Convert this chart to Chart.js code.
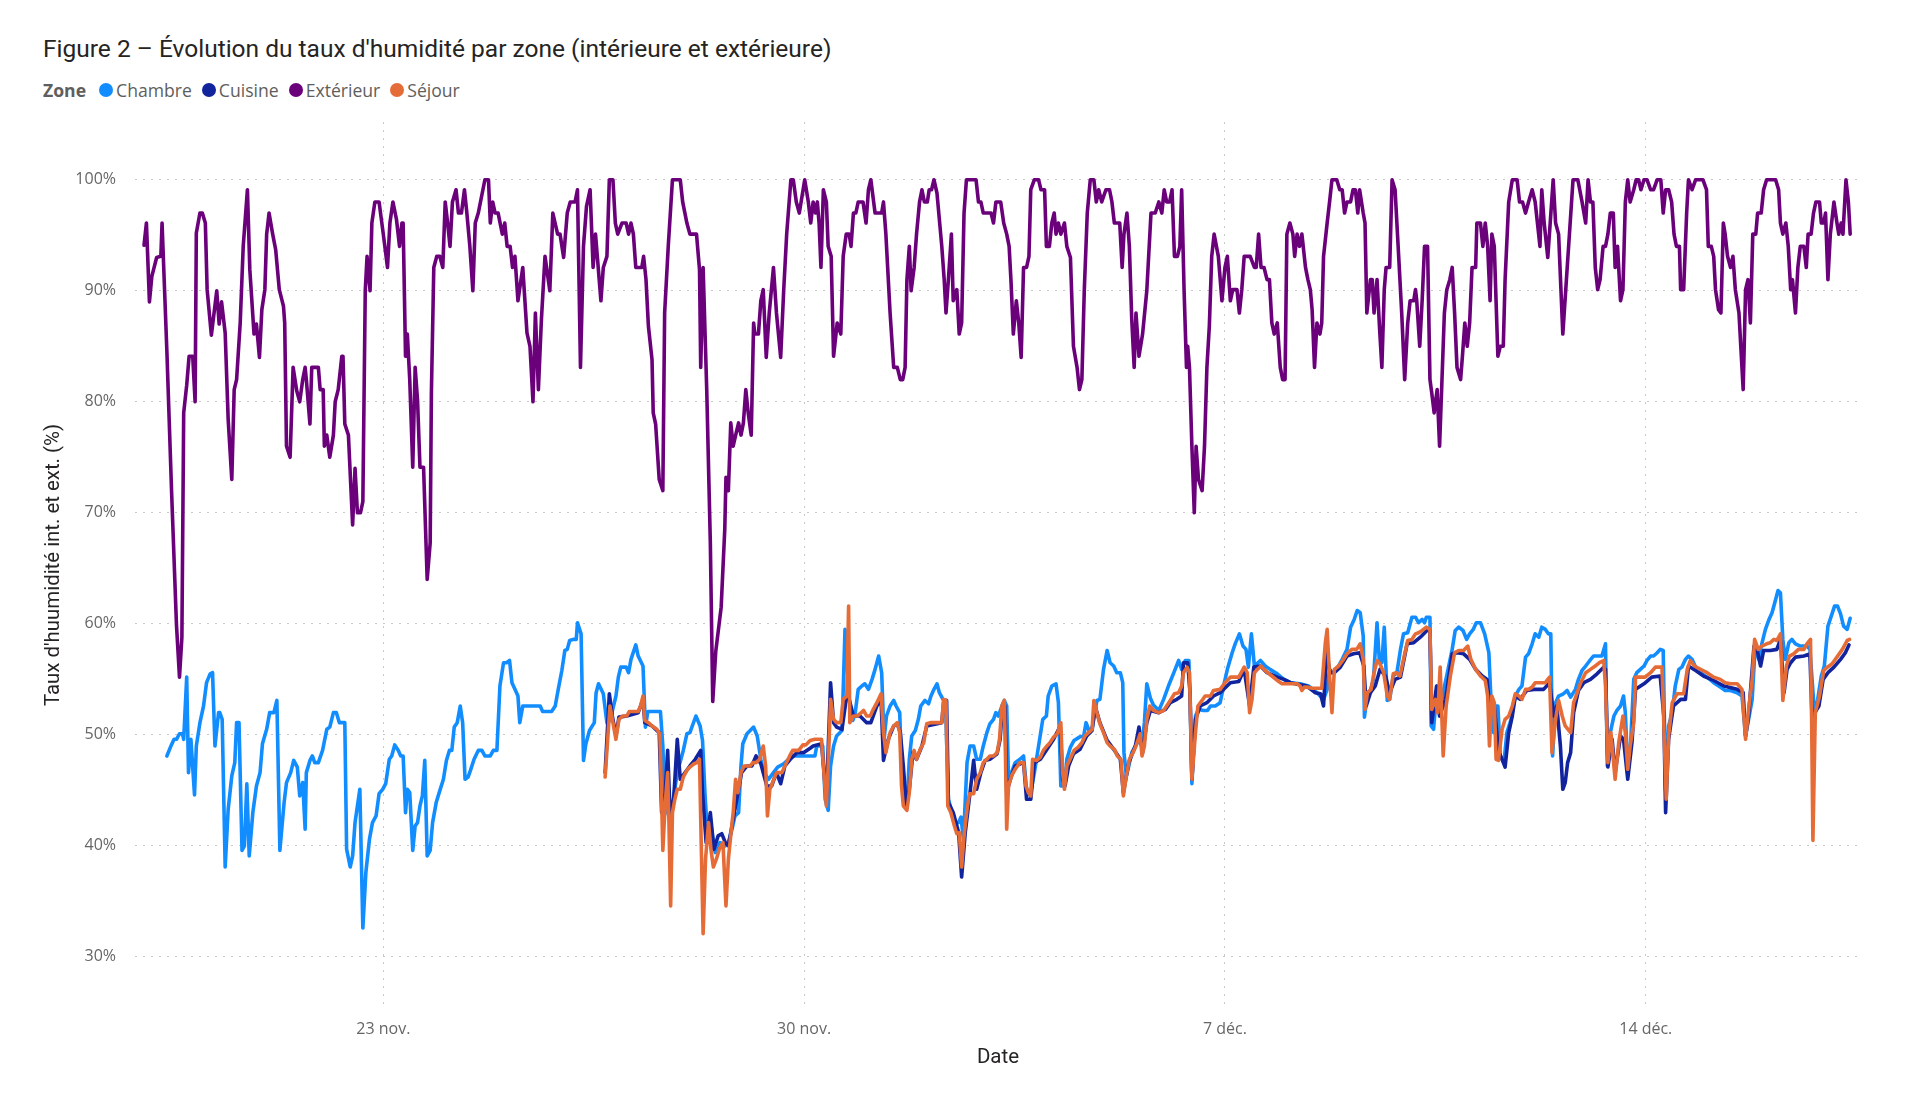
<!DOCTYPE html>
<html lang="fr">
<head>
<meta charset="utf-8">
<title>Figure 2</title>
<script src="https://cdn.jsdelivr.net/npm/chart.js@4.4.1/dist/chart.umd.min.js"></script>
<style>
  html, body { margin: 0; padding: 0; background: #ffffff; }
  body { width: 1920px; height: 1110px; position: relative; overflow: hidden; font-family: "Open Sans", sans-serif; }
  #title { position: absolute; left: 43px; top: 34px; font-family: Roboto, sans-serif; font-size: 24.5px; color: #252423; white-space: nowrap; }
  #legend { position: absolute; left: 43px; top: 78px; height: 24px; display: flex; align-items: center; font-size: 17.6px; color: #605E5C; white-space: nowrap; }
  #legend .zone { font-weight: 700; margin-right: 13px; }
  #legend .dot { width: 14px; height: 14px; border-radius: 50%; margin-right: 3px; display: inline-block; }
  #legend .lab { margin-right: 10px; }
  #wrap { position: absolute; left: 0; top: 0; width: 1920px; height: 1110px; }
</style>
</head>
<body>
<div id="title">Figure 2 – Évolution du taux d'humidité par zone (intérieure et extérieure)</div>
<div id="legend"></div>
<div id="wrap"><canvas id="c" width="1920" height="1110"></canvas></div>
<script>
// Day numbers count from 1 November (23 = 23 nov., 37 = 7 déc.)
const tickDays = [23, 30, 37, 44];
const tickLabels = ['23 nov.', '30 nov.', '7 déc.', '14 déc.'];
const yTicks = [30, 40, 50, 60, 70, 80, 90, 100];
const zones = ['Chambre', 'Cuisine', 'Extérieur', 'Séjour'];
const colors = ['#118DFF', '#12239E', '#6B007B', '#E66C37'];

// [day, humidity %]
const exterieur = [[19.02,94.1],[19.06,96.1],[19.11,89.0],[19.15,91.3],[19.23,93.0],[19.30,93.1],[19.32,96.1],[19.40,84.6],[19.48,71.7],[19.56,59.9],[19.61,55.2],[19.65,58.8],[19.68,79.0],[19.73,81.5],[19.77,84.1],[19.83,84.1],[19.87,80.0],[19.89,95.2],[19.95,97.0],[19.99,97.0],[20.04,96.1],[20.07,90.1],[20.14,86.0],[20.23,90.0],[20.27,87.0],[20.31,89.0],[20.37,86.2],[20.42,78.4],[20.48,73.0],[20.52,81.1],[20.56,82.0],[20.62,87.1],[20.67,94.0],[20.74,99.1],[20.78,91.9],[20.85,86.1],[20.89,87.0],[20.94,84.0],[20.98,88.3],[21.03,90.1],[21.06,95.1],[21.10,97.0],[21.16,95.1],[21.21,93.7],[21.27,90.1],[21.34,88.6],[21.36,87.1],[21.39,76.0],[21.45,75.0],[21.50,83.1],[21.56,81.0],[21.61,80.0],[21.66,82.0],[21.70,83.1],[21.72,82.0],[21.78,78.0],[21.81,83.1],[21.92,83.1],[21.95,81.1],[22.00,81.1],[22.02,76.0],[22.06,77.0],[22.11,75.0],[22.17,77.0],[22.20,80.0],[22.25,81.1],[22.31,84.1],[22.33,84.1],[22.36,78.0],[22.42,77.0],[22.49,68.9],[22.53,74.0],[22.57,70.0],[22.62,70.0],[22.66,71.0],[22.70,90.0],[22.73,93.1],[22.78,90.0],[22.81,96.1],[22.86,98.0],[22.93,98.0],[23.00,95.1],[23.07,92.1],[23.11,96.1],[23.16,98.0],[23.22,96.4],[23.27,94.0],[23.31,96.1],[23.33,96.1],[23.37,84.1],[23.40,86.1],[23.44,82.0],[23.49,74.1],[23.53,83.1],[23.57,80.1],[23.61,74.1],[23.67,74.1],[23.73,64.0],[23.78,67.3],[23.80,80.8],[23.84,92.1],[23.89,93.1],[23.94,93.1],[23.99,92.1],[24.03,98.0],[24.07,96.1],[24.11,94.0],[24.15,98.0],[24.21,99.1],[24.25,97.0],[24.30,97.0],[24.35,99.1],[24.39,97.0],[24.44,94.0],[24.49,90.0],[24.53,96.1],[24.58,97.0],[24.69,100],[24.75,100],[24.78,96.1],[24.82,98.0],[24.86,97.0],[24.91,97.0],[24.98,95.1],[25.02,96.1],[25.06,94.0],[25.11,94.0],[25.15,92.1],[25.19,93.1],[25.24,89.1],[25.32,92.1],[25.39,86.2],[25.44,85.0],[25.49,80.0],[25.53,88.0],[25.58,81.1],[25.63,87.4],[25.69,93.1],[25.77,90.0],[25.82,97.0],[25.90,95.1],[25.94,95.1],[26.00,93.0],[26.06,97.0],[26.11,98.0],[26.19,98.0],[26.23,99.1],[26.28,83.1],[26.33,94.0],[26.38,97.6],[26.44,99.1],[26.49,92.1],[26.53,95.1],[26.62,89.1],[26.66,92.1],[26.72,93.1],[26.76,100],[26.82,100],[26.86,96.1],[26.90,95.1],[26.97,96.1],[27.04,96.1],[27.08,95.1],[27.12,96.1],[27.16,95.1],[27.20,92.1],[27.30,92.1],[27.33,93.1],[27.37,91.0],[27.41,86.8],[27.47,83.8],[27.49,79.0],[27.53,78.0],[27.59,73.0],[27.65,72.0],[27.68,88.0],[27.74,94.0],[27.81,100],[27.94,100],[27.98,98.0],[28.05,96.1],[28.10,95.1],[28.21,95.1],[28.26,91.9],[28.28,83.1],[28.32,92.1],[28.38,81.1],[28.44,67.3],[28.48,53.0],[28.53,57.5],[28.62,61.5],[28.68,68.5],[28.70,73.2],[28.74,72.0],[28.78,78.1],[28.82,76.0],[28.87,77.2],[28.91,78.1],[28.95,77.0],[28.99,78.1],[29.03,81.1],[29.07,79.0],[29.12,77.0],[29.16,87.1],[29.18,86.1],[29.24,86.1],[29.28,89.1],[29.32,90.1],[29.37,84.0],[29.42,88.0],[29.49,92.1],[29.54,88.0],[29.61,84.0],[29.66,90.0],[29.71,95.1],[29.78,100],[29.82,100],[29.87,98.0],[29.92,97.0],[30.01,100],[30.07,98.0],[30.11,96.1],[30.15,98.0],[30.19,97.0],[30.22,98.0],[30.25,96.0],[30.28,92.1],[30.32,99.1],[30.37,98.0],[30.40,94.0],[30.45,93.1],[30.49,84.1],[30.55,87.1],[30.61,86.1],[30.65,93.1],[30.70,95.1],[30.75,95.1],[30.78,94.0],[30.82,97.0],[30.86,97.0],[30.90,98.0],[30.98,98.0],[31.03,96.1],[31.07,99.1],[31.11,100],[31.18,97.0],[31.29,97.0],[31.32,98.0],[31.36,95.1],[31.43,88.0],[31.49,83.1],[31.55,83.1],[31.60,82.0],[31.64,82.0],[31.68,83.1],[31.71,91.0],[31.75,94.0],[31.78,90.0],[31.83,92.1],[31.87,95.1],[31.92,98.0],[31.96,99.1],[32.00,98.0],[32.05,98.0],[32.08,99.1],[32.12,99.1],[32.16,100],[32.21,98.8],[32.29,94.0],[32.33,91.0],[32.36,88.0],[32.40,91.0],[32.45,95.1],[32.48,89.1],[32.54,90.1],[32.58,86.1],[32.62,87.1],[32.66,97.0],[32.70,100],[32.86,100],[32.90,98.0],[32.94,98.0],[32.98,97.0],[33.11,97.0],[33.15,96.1],[33.19,98.0],[33.27,98.0],[33.32,96.1],[33.37,95.1],[33.41,94.0],[33.44,91.0],[33.48,86.1],[33.53,89.1],[33.57,87.1],[33.61,84.0],[33.65,92.1],[33.70,92.1],[33.74,93.1],[33.77,99.1],[33.83,100],[33.90,100],[33.94,99.1],[34.00,99.1],[34.03,94.0],[34.08,94.0],[34.12,96.1],[34.16,97.0],[34.19,95.1],[34.23,96.1],[34.27,95.1],[34.33,96.1],[34.37,94.0],[34.43,93.0],[34.48,85.0],[34.54,83.1],[34.58,81.1],[34.62,82.0],[34.66,90.0],[34.71,97.0],[34.76,100],[34.82,100],[34.86,98.0],[34.90,99.1],[34.95,98.0],[35.02,99.1],[35.08,99.1],[35.12,98.0],[35.16,96.1],[35.25,96.1],[35.29,92.1],[35.32,95.1],[35.37,97.0],[35.41,94.0],[35.45,87.4],[35.49,83.1],[35.52,88.0],[35.57,84.1],[35.63,86.1],[35.70,90.0],[35.77,97.0],[35.84,97.0],[35.90,98.0],[35.95,97.0],[35.99,99.1],[36.03,98.0],[36.08,98.0],[36.12,99.1],[36.16,93.1],[36.21,93.1],[36.25,94.0],[36.28,99.1],[36.32,90.1],[36.36,83.1],[36.38,85.0],[36.41,83.1],[36.45,76.0],[36.49,70.0],[36.52,76.0],[36.56,73.0],[36.62,72.0],[36.66,76.0],[36.70,83.1],[36.74,86.8],[36.78,93.1],[36.82,95.1],[36.89,93.1],[36.95,89.1],[37.00,92.1],[37.04,93.1],[37.09,89.1],[37.13,90.1],[37.20,90.1],[37.24,88.0],[37.28,90.1],[37.32,93.1],[37.42,93.1],[37.49,92.1],[37.52,92.1],[37.56,95.1],[37.60,92.1],[37.65,92.1],[37.70,91.0],[37.74,91.0],[37.78,87.1],[37.82,86.1],[37.87,87.1],[37.92,83.1],[37.96,82.0],[38.00,82.0],[38.03,95.1],[38.08,96.1],[38.13,95.1],[38.16,93.1],[38.20,95.1],[38.24,94.0],[38.28,95.1],[38.34,92.1],[38.38,91.0],[38.42,90.1],[38.45,88.3],[38.49,83.1],[38.53,87.1],[38.58,86.1],[38.61,87.1],[38.64,93.1],[38.70,96.1],[38.74,98.0],[38.78,100],[38.86,100],[38.91,99.1],[38.95,99.1],[38.99,97.0],[39.03,98.0],[39.09,98.0],[39.13,99.1],[39.17,99.1],[39.21,97.0],[39.24,99.1],[39.30,97.0],[39.33,96.1],[39.36,88.0],[39.42,91.0],[39.45,91.0],[39.48,88.0],[39.53,91.0],[39.57,86.8],[39.61,83.1],[39.65,90.1],[39.68,92.1],[39.74,92.1],[39.78,100],[39.83,99.1],[39.89,93.1],[39.94,88.0],[39.99,82.0],[40.04,87.1],[40.08,89.1],[40.14,89.1],[40.17,90.1],[40.19,89.1],[40.24,85.0],[40.28,89.1],[40.32,94.0],[40.37,94.0],[40.41,82.0],[40.44,80.8],[40.48,79.0],[40.53,81.1],[40.57,76.0],[40.61,82.0],[40.65,88.0],[40.69,90.1],[40.74,91.0],[40.78,92.1],[40.82,88.0],[40.86,83.1],[40.92,82.0],[40.95,84.1],[40.99,87.1],[41.03,85.0],[41.07,87.1],[41.11,92.1],[41.17,92.1],[41.19,96.1],[41.25,96.1],[41.29,94.0],[41.33,96.1],[41.37,94.0],[41.41,89.1],[41.44,95.1],[41.48,94.0],[41.54,84.1],[41.58,85.0],[41.63,85.0],[41.66,91.0],[41.72,98.0],[41.78,100],[41.86,100],[41.90,98.0],[41.95,98.0],[42.00,97.0],[42.05,98.0],[42.11,99.1],[42.16,98.0],[42.24,94.0],[42.27,99.1],[42.31,96.1],[42.37,93.0],[42.41,96.1],[42.46,100],[42.50,96.1],[42.55,95.1],[42.62,86.1],[42.68,91.0],[42.73,95.1],[42.79,100],[42.87,100],[42.94,98.0],[43.00,96.1],[43.04,100],[43.08,98.0],[43.12,98.0],[43.16,92.1],[43.20,90.1],[43.24,91.0],[43.29,94.0],[43.33,94.0],[43.37,95.1],[43.41,97.0],[43.46,97.0],[43.49,92.1],[43.53,94.0],[43.58,89.1],[43.62,90.1],[43.66,98.0],[43.70,100],[43.74,98.0],[43.80,99.1],[43.84,100],[43.88,100],[43.92,99.1],[43.97,100],[44.02,100],[44.08,99.1],[44.13,99.1],[44.19,100],[44.25,100],[44.29,97.0],[44.33,99.1],[44.38,99.1],[44.43,98.0],[44.47,95.1],[44.51,94.0],[44.56,94.0],[44.58,90.1],[44.63,90.1],[44.68,97.0],[44.71,100],[44.77,99.1],[44.83,100],[44.95,100],[45.01,99.1],[45.04,94.0],[45.09,94.0],[45.13,93.1],[45.16,90.1],[45.21,88.3],[45.25,88.0],[45.29,96.1],[45.32,95.1],[45.36,93.1],[45.41,92.1],[45.45,93.1],[45.49,90.1],[45.55,88.0],[45.62,81.1],[45.66,90.1],[45.70,91.0],[45.74,87.1],[45.78,95.1],[45.83,95.1],[45.86,97.0],[45.92,97.0],[45.96,99.1],[46.01,100],[46.16,100],[46.21,99.1],[46.24,96.1],[46.28,95.1],[46.33,96.1],[46.37,94.0],[46.41,90.1],[46.44,91.0],[46.49,88.0],[46.53,92.1],[46.57,94.0],[46.63,94.0],[46.67,92.1],[46.70,95.1],[46.75,95.1],[46.79,97.0],[46.83,98.0],[46.89,98.0],[46.92,96.1],[46.96,96.1],[46.99,97.0],[47.03,91.0],[47.07,95.1],[47.13,98.0],[47.18,96.1],[47.21,95.1],[47.25,96.1],[47.28,95.1],[47.33,100],[47.37,98.0],[47.40,95.1]];

const chambre = [[19.40,48.1],[19.46,48.9],[19.52,49.6],[19.56,49.6],[19.61,50.1],[19.66,50.1],[19.68,49.6],[19.73,55.2],[19.76,46.6],[19.80,49.6],[19.86,44.6],[19.89,49.0],[19.95,51.1],[20.01,52.6],[20.06,54.7],[20.12,55.5],[20.16,55.6],[20.20,49.0],[20.26,52.0],[20.28,52.0],[20.32,51.4],[20.37,38.1],[20.42,43.3],[20.48,46.3],[20.53,47.5],[20.56,51.1],[20.60,51.1],[20.65,39.6],[20.69,40.0],[20.73,45.6],[20.77,39.1],[20.83,43.0],[20.89,45.4],[20.95,46.6],[20.99,49.2],[21.06,50.5],[21.11,52.0],[21.18,52.0],[21.23,53.1],[21.28,39.6],[21.35,43.9],[21.39,45.7],[21.46,46.6],[21.51,47.7],[21.57,47.1],[21.61,44.5],[21.66,45.7],[21.70,41.5],[21.72,46.6],[21.78,47.7],[21.82,48.1],[21.86,47.5],[21.92,47.5],[21.99,48.6],[22.06,50.5],[22.11,50.7],[22.17,52.0],[22.22,52.0],[22.27,51.1],[22.36,51.1],[22.39,39.7],[22.45,38.1],[22.49,39.1],[22.53,42.1],[22.61,45.1],[22.66,32.6],[22.71,37.6],[22.77,40.6],[22.82,42.1],[22.88,42.7],[22.93,44.7],[22.99,45.1],[23.04,45.6],[23.10,47.8],[23.14,48.1],[23.19,49.1],[23.25,48.6],[23.29,48.1],[23.33,48.1],[23.37,43.0],[23.40,45.1],[23.44,44.8],[23.49,39.6],[23.53,41.8],[23.57,42.1],[23.61,43.6],[23.65,44.5],[23.69,47.7],[23.73,39.1],[23.78,39.6],[23.82,42.1],[23.88,43.9],[23.93,44.8],[24.00,46.0],[24.05,47.7],[24.10,48.6],[24.14,48.6],[24.18,50.7],[24.23,51.1],[24.28,52.6],[24.32,51.1],[24.36,46.0],[24.41,46.2],[24.45,46.8],[24.51,47.8],[24.58,48.6],[24.64,48.6],[24.69,48.1],[24.78,48.1],[24.83,48.6],[24.89,48.6],[24.94,54.4],[25.00,56.5],[25.05,56.5],[25.10,56.7],[25.14,54.7],[25.19,54.1],[25.24,53.5],[25.27,51.1],[25.32,52.6],[25.36,52.6],[25.61,52.6],[25.65,52.1],[25.80,52.1],[25.86,52.6],[25.91,54.1],[25.97,55.8],[26.02,57.6],[26.06,57.7],[26.10,58.5],[26.16,58.6],[26.21,58.6],[26.23,60.1],[26.29,59.1],[26.33,47.7],[26.37,49.2],[26.43,50.4],[26.51,51.1],[26.54,53.8],[26.58,54.6],[26.66,53.7],[26.72,51.1],[26.77,51.3],[26.83,52.6],[26.87,53.5],[26.91,55.2],[26.95,56.1],[27.04,56.1],[27.08,55.6],[27.12,56.8],[27.20,58.1],[27.24,57.1],[27.32,56.2],[27.36,50.7],[27.40,52.1],[27.61,52.1],[27.65,49.0],[27.68,44.2],[27.73,43.0],[27.77,42.4],[27.84,44.8],[27.89,46.6],[27.99,48.6],[28.05,50.1],[28.10,50.2],[28.20,51.7],[28.27,50.8],[28.31,49.5],[28.35,44.8],[28.39,41.2],[28.45,41.8],[28.52,39.4],[28.60,40.3],[28.69,40.0],[28.74,40.3],[28.80,41.5],[28.85,42.7],[28.91,43.0],[28.95,47.2],[28.98,49.2],[29.05,50.1],[29.16,50.7],[29.22,49.9],[29.28,47.8],[29.33,46.6],[29.41,46.0],[29.49,46.6],[29.56,47.1],[29.66,47.4],[29.74,47.8],[29.82,48.1],[29.93,48.1],[30.04,48.1],[30.18,48.1],[30.21,49.0],[30.31,49.0],[30.35,44.2],[30.40,43.2],[30.44,47.2],[30.49,49.0],[30.54,49.9],[30.63,50.4],[30.68,59.5],[30.72,55.9],[30.75,53.2],[30.81,51.3],[30.85,52.0],[30.90,54.1],[30.96,54.4],[31.01,54.6],[31.07,54.1],[31.13,55.0],[31.18,55.9],[31.24,57.1],[31.29,55.6],[31.33,49.6],[31.37,51.7],[31.43,52.6],[31.49,53.1],[31.53,52.6],[31.59,52.0],[31.62,47.1],[31.71,43.6],[31.75,47.8],[31.79,49.9],[31.85,50.4],[31.90,51.4],[31.94,52.6],[32.01,53.1],[32.07,52.8],[32.11,53.5],[32.16,54.1],[32.21,54.6],[32.25,53.8],[32.31,53.2],[32.35,53.1],[32.40,44.2],[32.46,43.0],[32.51,42.1],[32.57,42.1],[32.61,42.6],[32.65,40.6],[32.71,47.5],[32.76,49.0],[32.82,49.0],[32.87,47.8],[32.93,47.8],[32.98,49.0],[33.04,50.2],[33.09,51.0],[33.15,51.4],[33.19,52.0],[33.23,51.7],[33.29,52.6],[33.33,53.1],[33.37,52.6],[33.40,46.0],[33.45,46.6],[33.51,47.5],[33.59,47.8],[33.65,48.1],[33.70,45.1],[33.76,44.5],[33.83,46.6],[33.90,49.0],[33.97,51.4],[34.03,51.7],[34.06,53.5],[34.12,54.4],[34.19,54.6],[34.23,52.9],[34.27,45.4],[34.33,45.4],[34.37,47.8],[34.43,48.9],[34.49,49.5],[34.58,49.8],[34.65,49.9],[34.69,51.1],[34.75,50.2],[34.80,50.8],[34.87,53.1],[34.92,53.2],[34.98,55.9],[35.04,57.6],[35.09,56.5],[35.15,56.2],[35.20,55.6],[35.26,55.6],[35.30,54.7],[35.32,48.4],[35.36,46.3],[35.40,47.2],[35.45,48.4],[35.51,49.0],[35.56,49.5],[35.62,49.0],[35.66,51.1],[35.70,54.6],[35.76,53.3],[35.81,52.7],[35.90,52.2],[35.98,53.2],[36.06,54.4],[36.15,55.6],[36.23,56.7],[36.28,55.9],[36.34,56.7],[36.40,56.7],[36.42,53.2],[36.45,45.6],[36.51,51.7],[36.56,52.3],[36.64,52.2],[36.71,52.2],[36.76,52.6],[36.84,52.6],[36.92,52.9],[36.99,54.7],[37.04,55.9],[37.12,57.4],[37.17,58.2],[37.24,59.1],[37.30,58.0],[37.35,57.7],[37.39,56.1],[37.44,59.1],[37.49,56.2],[37.53,56.4],[37.59,56.7],[37.67,56.2],[37.75,55.9],[37.87,55.5],[37.98,55.0],[38.09,54.7],[38.25,54.6],[38.39,54.4],[38.53,53.8],[38.64,53.2],[38.70,54.1],[38.74,55.9],[38.78,55.6],[38.86,55.9],[38.95,56.8],[39.03,57.7],[39.09,59.7],[39.15,60.4],[39.20,61.2],[39.25,61.0],[39.30,58.9],[39.32,51.6],[39.36,53.2],[39.42,54.0],[39.47,55.0],[39.53,60.1],[39.57,56.5],[39.61,56.5],[39.65,59.7],[39.70,53.1],[39.74,53.2],[39.80,55.3],[39.86,55.6],[39.92,57.7],[39.97,59.1],[40.04,59.2],[40.11,60.6],[40.17,60.6],[40.22,60.1],[40.28,60.4],[40.32,60.1],[40.35,60.6],[40.41,60.6],[40.43,50.8],[40.47,50.5],[40.53,54.4],[40.58,51.7],[40.64,54.1],[40.70,55.6],[40.78,57.7],[40.83,59.4],[40.89,59.7],[40.96,59.4],[41.02,58.6],[41.07,59.1],[41.13,59.5],[41.18,60.1],[41.25,60.1],[41.32,59.1],[41.39,57.4],[41.43,52.6],[41.47,50.2],[41.51,52.6],[41.54,52.6],[41.58,48.1],[41.64,47.5],[41.69,50.2],[41.76,51.4],[41.83,53.5],[41.89,54.1],[41.94,54.4],[42.00,57.0],[42.05,57.3],[42.11,58.2],[42.16,59.1],[42.22,58.8],[42.27,59.7],[42.33,59.5],[42.38,59.1],[42.42,59.1],[42.45,48.1],[42.50,52.9],[42.55,53.5],[42.63,53.7],[42.69,54.0],[42.75,53.4],[42.83,54.1],[42.88,55.0],[42.94,55.8],[43.00,56.2],[43.07,56.7],[43.13,57.1],[43.27,57.1],[43.33,58.2],[43.36,47.2],[43.41,50.2],[43.47,51.7],[43.52,52.2],[43.58,52.6],[43.63,53.5],[43.66,52.0],[43.70,46.9],[43.74,48.4],[43.80,55.0],[43.85,55.6],[43.91,55.9],[43.97,56.2],[44.02,56.7],[44.08,57.1],[44.13,57.1],[44.19,57.4],[44.24,57.7],[44.29,57.6],[44.33,45.0],[44.38,50.8],[44.44,52.0],[44.49,54.4],[44.55,55.9],[44.60,56.1],[44.66,56.8],[44.71,57.1],[44.77,56.8],[44.83,56.1],[44.91,55.6],[45.02,55.2],[45.13,54.7],[45.24,54.3],[45.32,54.0],[45.41,54.0],[45.52,53.8],[45.60,53.5],[45.66,49.9],[45.71,51.4],[45.77,53.2],[45.82,58.0],[45.88,56.8],[45.93,58.2],[45.99,59.5],[46.05,60.4],[46.10,61.0],[46.16,62.2],[46.20,63.0],[46.24,62.8],[46.28,58.6],[46.32,56.8],[46.38,58.3],[46.43,58.6],[46.49,58.2],[46.57,58.0],[46.68,58.0],[46.73,57.7],[46.77,54.7],[46.81,51.7],[46.86,53.2],[46.92,55.3],[46.97,56.2],[47.03,59.8],[47.08,60.6],[47.14,61.6],[47.19,61.6],[47.24,60.9],[47.29,59.8],[47.35,59.5],[47.40,60.5]];

const cuisine = [[26.69,46.6],[26.76,53.7],[26.81,51.7],[26.87,49.9],[26.92,51.6],[27.05,51.7],[27.24,52.0],[27.32,53.2],[27.35,51.1],[27.47,50.8],[27.59,50.2],[27.63,43.0],[27.69,44.8],[27.73,48.6],[27.77,43.0],[27.83,44.2],[27.89,49.6],[27.94,46.0],[28.02,46.6],[28.10,47.2],[28.19,47.8],[28.28,48.6],[28.31,44.8],[28.37,40.3],[28.44,43.0],[28.50,39.7],[28.57,40.9],[28.63,41.1],[28.69,40.3],[28.74,40.0],[28.82,42.4],[28.88,44.2],[28.96,46.6],[29.05,47.2],[29.13,47.2],[29.20,48.1],[29.28,47.4],[29.38,45.4],[29.46,45.4],[29.54,46.6],[29.61,45.6],[29.68,47.2],[29.77,47.8],[29.88,48.4],[29.99,48.4],[30.10,48.8],[30.15,49.0],[30.29,49.2],[30.37,44.2],[30.44,54.7],[30.49,51.1],[30.54,50.7],[30.63,50.5],[30.70,53.2],[30.75,53.2],[30.82,51.7],[30.93,51.7],[31.04,51.1],[31.11,51.1],[31.21,52.6],[31.28,53.2],[31.32,47.7],[31.40,49.6],[31.49,50.8],[31.55,51.0],[31.60,50.2],[31.65,47.2],[31.70,43.6],[31.75,45.1],[31.81,48.4],[31.87,47.8],[31.96,49.0],[32.04,50.8],[32.29,51.1],[32.32,52.9],[32.37,53.1],[32.40,43.9],[32.48,43.0],[32.57,41.2],[32.62,37.2],[32.68,41.2],[32.76,44.8],[32.82,47.7],[32.87,45.1],[32.94,46.6],[33.01,47.7],[33.09,47.8],[33.21,48.3],[33.26,49.6],[33.30,52.6],[33.34,52.6],[33.37,44.8],[33.43,46.0],[33.51,47.2],[33.65,47.5],[33.70,44.2],[33.77,44.2],[33.83,47.5],[33.93,47.8],[34.04,48.7],[34.15,49.6],[34.26,50.8],[34.30,46.0],[34.34,45.4],[34.40,47.2],[34.48,48.3],[34.59,48.7],[34.70,49.9],[34.79,50.4],[34.84,52.6],[34.92,51.1],[35.04,49.5],[35.15,48.7],[35.26,47.8],[35.31,44.8],[35.40,47.5],[35.51,49.0],[35.57,50.7],[35.63,48.4],[35.70,51.1],[35.76,52.2],[35.90,52.0],[36.01,52.3],[36.09,52.9],[36.20,53.2],[36.28,53.5],[36.31,56.5],[36.38,56.5],[36.42,53.8],[36.45,46.0],[36.51,51.4],[36.59,52.6],[36.70,52.9],[36.81,53.5],[36.92,53.8],[37.09,54.7],[37.23,54.8],[37.32,55.9],[37.41,52.6],[37.48,56.1],[37.59,56.2],[37.70,55.6],[37.87,55.2],[37.98,55.0],[38.09,54.7],[38.36,54.4],[38.50,53.8],[38.59,53.7],[38.64,52.6],[38.69,57.4],[38.75,55.6],[38.82,55.6],[38.92,56.1],[39.03,57.1],[39.14,57.3],[39.24,57.4],[39.31,56.2],[39.35,52.6],[39.42,53.8],[39.50,54.4],[39.58,55.9],[39.67,55.3],[39.74,53.8],[39.83,55.0],[39.92,55.2],[40.03,58.2],[40.14,58.3],[40.25,58.8],[40.36,59.4],[40.41,59.4],[40.44,51.1],[40.52,54.4],[40.57,51.7],[40.67,53.2],[40.78,57.3],[40.86,57.4],[40.97,57.3],[41.07,56.8],[41.17,55.9],[41.28,55.3],[41.36,55.0],[41.41,52.0],[41.48,52.6],[41.55,48.5],[41.61,47.8],[41.66,47.1],[41.72,50.2],[41.78,51.7],[41.83,53.5],[41.91,53.2],[42.02,54.0],[42.14,54.1],[42.30,54.1],[42.40,54.7],[42.47,51.7],[42.52,52.6],[42.58,49.0],[42.62,45.1],[42.66,45.7],[42.70,47.5],[42.75,48.4],[42.80,52.0],[42.88,54.0],[42.97,54.7],[43.08,55.0],[43.19,55.5],[43.30,56.1],[43.33,55.9],[43.37,47.1],[43.44,49.6],[43.49,46.6],[43.58,49.9],[43.63,49.6],[43.70,46.0],[43.77,49.3],[43.83,54.1],[43.97,54.6],[44.10,55.2],[44.24,55.3],[44.30,51.7],[44.33,43.0],[44.38,49.6],[44.46,52.6],[44.58,53.2],[44.66,53.2],[44.71,56.2],[44.83,55.8],[44.96,55.3],[45.13,54.9],[45.30,54.4],[45.52,54.1],[45.62,53.8],[45.66,49.9],[45.71,51.7],[45.80,58.0],[45.85,57.7],[45.91,56.2],[45.96,57.6],[46.07,57.6],[46.18,57.7],[46.24,58.6],[46.30,53.8],[46.35,55.9],[46.41,56.5],[46.49,57.0],[46.63,57.1],[46.73,57.3],[46.77,50.8],[46.81,52.0],[46.88,52.6],[46.95,55.0],[47.03,55.6],[47.13,56.1],[47.24,56.8],[47.32,57.4],[47.38,58.1]];

const sejour = [[26.69,46.2],[26.77,52.6],[26.82,51.1],[26.87,49.6],[26.92,51.4],[26.98,51.7],[27.05,51.7],[27.09,52.1],[27.24,52.1],[27.28,52.6],[27.32,53.5],[27.35,51.3],[27.41,51.1],[27.47,50.8],[27.55,50.5],[27.60,50.1],[27.62,46.3],[27.65,39.6],[27.69,43.9],[27.73,46.6],[27.75,42.4],[27.78,34.6],[27.81,43.0],[27.85,44.2],[27.89,45.1],[27.94,45.1],[27.99,46.2],[28.05,46.8],[28.10,47.1],[28.17,47.4],[28.22,47.5],[28.26,47.8],[28.28,42.4],[28.32,32.1],[28.36,38.8],[28.41,42.1],[28.45,39.7],[28.49,38.1],[28.54,38.8],[28.59,39.7],[28.65,40.3],[28.70,34.6],[28.74,38.8],[28.79,41.5],[28.82,43.0],[28.86,46.0],[28.90,44.8],[28.95,46.6],[29.00,47.2],[29.10,47.2],[29.15,47.5],[29.20,47.5],[29.26,47.8],[29.32,49.0],[29.36,47.2],[29.39,42.7],[29.43,45.1],[29.49,45.9],[29.54,46.6],[29.63,46.6],[29.68,47.2],[29.76,48.1],[29.81,48.6],[29.91,48.6],[29.98,49.1],[30.03,49.1],[30.10,49.5],[30.18,49.6],[30.29,49.6],[30.32,47.2],[30.37,43.6],[30.40,47.2],[30.44,53.2],[30.49,51.4],[30.54,51.1],[30.61,51.1],[30.65,53.2],[30.71,53.5],[30.74,61.6],[30.76,51.1],[30.82,51.7],[30.88,51.7],[30.93,51.9],[30.99,52.2],[31.04,51.7],[31.10,51.7],[31.15,52.3],[31.21,52.9],[31.28,53.7],[31.32,50.2],[31.36,48.4],[31.43,50.2],[31.49,50.8],[31.55,51.1],[31.59,50.2],[31.62,45.4],[31.65,43.6],[31.71,43.2],[31.75,44.8],[31.79,47.8],[31.83,48.6],[31.87,47.8],[31.93,48.7],[31.99,49.3],[32.04,51.0],[32.10,51.1],[32.29,51.1],[32.32,53.2],[32.36,53.1],[32.39,43.6],[32.44,43.0],[32.50,41.8],[32.54,41.1],[32.58,41.2],[32.62,38.1],[32.66,40.9],[32.71,43.3],[32.75,44.7],[32.82,44.7],[32.87,46.0],[32.93,46.6],[32.98,47.5],[33.04,47.8],[33.09,48.1],[33.15,48.1],[33.21,48.4],[33.25,49.6],[33.29,52.6],[33.33,53.1],[33.35,47.8],[33.37,41.5],[33.40,45.4],[33.45,46.3],[33.51,46.9],[33.59,47.5],[33.65,47.5],[33.69,45.4],[33.73,44.8],[33.77,44.5],[33.80,47.8],[33.87,47.7],[33.93,48.0],[33.98,48.6],[34.04,49.0],[34.09,49.3],[34.15,49.8],[34.21,50.1],[34.27,51.1],[34.30,46.6],[34.33,45.1],[34.37,47.2],[34.44,48.0],[34.49,48.6],[34.56,48.9],[34.62,49.3],[34.67,49.9],[34.73,50.2],[34.79,50.5],[34.82,53.1],[34.87,52.0],[34.92,51.0],[34.98,50.2],[35.04,49.3],[35.09,49.0],[35.16,48.7],[35.21,48.1],[35.27,47.8],[35.31,44.5],[35.36,46.3],[35.41,47.8],[35.47,48.4],[35.52,49.0],[35.59,50.1],[35.62,48.1],[35.66,49.0],[35.70,51.4],[35.75,52.6],[35.81,52.2],[35.90,52.0],[35.98,52.2],[36.03,52.6],[36.09,53.1],[36.16,53.7],[36.23,53.8],[36.28,54.4],[36.31,55.6],[36.37,56.1],[36.41,55.6],[36.45,46.0],[36.51,50.2],[36.55,52.6],[36.62,53.1],[36.67,53.5],[36.76,53.5],[36.81,54.0],[36.92,54.1],[37.00,54.7],[37.09,55.2],[37.23,55.2],[37.32,56.1],[37.37,55.6],[37.41,52.0],[37.45,53.2],[37.49,55.6],[37.54,55.9],[37.60,56.2],[37.65,55.9],[37.71,55.6],[37.78,55.3],[37.87,54.9],[37.95,54.6],[38.20,54.6],[38.25,54.4],[38.28,54.0],[38.32,54.3],[38.36,54.3],[38.45,54.2],[38.61,54.2],[38.67,58.3],[38.70,59.5],[38.74,55.3],[38.78,52.0],[38.82,55.9],[38.89,56.2],[38.96,56.7],[39.03,57.3],[39.11,57.7],[39.19,57.7],[39.25,58.2],[39.30,56.8],[39.33,52.3],[39.37,53.8],[39.43,54.1],[39.48,55.6],[39.53,56.7],[39.58,56.4],[39.64,55.6],[39.70,53.5],[39.74,53.2],[39.80,55.5],[39.85,55.6],[39.91,55.3],[39.97,56.8],[40.04,58.5],[40.11,58.6],[40.17,59.1],[40.22,59.2],[40.28,59.4],[40.35,59.7],[40.41,59.5],[40.44,52.3],[40.50,53.2],[40.54,52.0],[40.58,56.1],[40.63,48.1],[40.68,52.6],[40.75,55.3],[40.82,57.4],[40.89,57.6],[40.97,57.6],[41.04,58.0],[41.09,56.8],[41.17,55.9],[41.25,55.3],[41.33,54.9],[41.37,53.5],[41.40,49.0],[41.44,53.5],[41.48,52.9],[41.51,47.8],[41.55,47.7],[41.61,50.5],[41.66,51.4],[41.72,51.7],[41.78,52.6],[41.83,53.7],[41.89,53.5],[41.94,53.2],[42.00,54.1],[42.05,54.1],[42.11,54.3],[42.16,54.7],[42.33,54.7],[42.40,55.2],[42.44,48.4],[42.50,51.4],[42.55,53.1],[42.61,51.7],[42.66,50.8],[42.75,50.2],[42.80,52.9],[42.86,53.8],[42.91,54.6],[43.00,55.6],[43.08,55.9],[43.16,56.2],[43.23,56.5],[43.30,56.7],[43.33,54.4],[43.37,47.5],[43.42,50.2],[43.49,46.0],[43.55,49.3],[43.62,51.7],[43.66,50.2],[43.70,46.9],[43.74,49.0],[43.80,51.1],[43.83,55.2],[43.99,55.2],[44.08,55.6],[44.16,56.1],[44.27,56.1],[44.31,49.3],[44.34,44.2],[44.38,49.9],[44.44,52.9],[44.52,53.7],[44.63,53.7],[44.69,55.9],[44.74,56.7],[44.81,56.2],[44.91,55.9],[45.02,55.6],[45.13,55.2],[45.24,55.0],[45.32,54.7],[45.41,54.6],[45.52,54.6],[45.60,54.1],[45.66,49.6],[45.71,52.3],[45.77,55.0],[45.81,58.6],[45.87,57.7],[45.93,58.0],[46.01,58.2],[46.07,58.3],[46.13,58.6],[46.18,58.5],[46.24,59.1],[46.28,53.1],[46.34,56.2],[46.39,57.1],[46.46,57.3],[46.54,57.7],[46.63,57.7],[46.68,58.2],[46.74,58.6],[46.76,50.8],[46.78,40.5],[46.82,52.0],[46.89,53.5],[46.96,55.8],[47.02,56.1],[47.10,56.4],[47.18,57.0],[47.27,57.7],[47.35,58.5],[47.39,58.6]];

const seriesData = [chambre, cuisine, exterieur, sejour];

// Legend (HTML text)
const legend = document.getElementById('legend');
const zl = document.createElement('span'); zl.className = 'zone'; zl.textContent = 'Zone'; legend.appendChild(zl);
zones.forEach((z, i) => {
  const d = document.createElement('span'); d.className = 'dot'; d.style.background = colors[i]; legend.appendChild(d);
  const l = document.createElement('span'); l.className = 'lab'; l.textContent = z; legend.appendChild(l);
});

const datasets = zones.map((z, i) => ({
  label: z,
  data: seriesData[i].map(p => ({ x: p[0], y: p[1] })),
  borderColor: colors[i],
  backgroundColor: colors[i],
  borderWidth: 3.6,
  pointRadius: 0,
  tension: 0,
  fill: false,
  borderJoinStyle: 'round',
  borderCapStyle: 'round',
  order: [3, 2, 1, 0][i]
}));

const gridCol = '#c8c8c8';
new Chart(document.getElementById('c'), {
  type: 'line',
  data: { datasets },
  options: {
    responsive: false,
    animation: false,
    parsing: false,
    normalized: true,
    layout: { padding: { left: 0, right: 59, top: 122, bottom: 0 } },
    plugins: { legend: { display: false }, tooltip: { enabled: false } },
    scales: {
      x: {
        type: 'linear', min: 18.87, max: 47.58,
        afterBuildTicks: s => { s.ticks = tickDays.map(v => ({ value: v })); },
        afterFit: s => { s.height = 102; },
        ticks: {
          autoSkip: false, maxRotation: 0, padding: 12,
          color: '#666666', font: { family: 'Open Sans', size: 16 },
          callback: v => tickLabels[tickDays.indexOf(v)]
        },
        grid: { color: gridCol, lineWidth: 1, drawTicks: false },
        border: { display: false, dash: [2, 6] },
        title: { display: true, text: 'Date', color: '#252423', font: { family: 'Roboto', size: 20.5 }, padding: { top: 0, bottom: 40 } }
      },
      y: {
        type: 'linear', min: 25.4, max: 105.2,
        afterBuildTicks: s => { s.ticks = yTicks.map(v => ({ value: v })); },
        afterFit: s => { s.width = 135; },
        ticks: {
          padding: 19, color: '#666666', font: { family: 'Open Sans', size: 16 },
          callback: v => v + '%'
        },
        grid: { color: gridCol, lineWidth: 1, drawTicks: false },
        border: { display: false, dash: [2, 6] },
        title: { display: true, text: "Taux d'huumidité int. et ext. (%)", color: '#252423', font: { family: 'Roboto', size: 20.4 }, padding: { top: 42, bottom: 0 } }
      }
    }
  }
});
</script>
</body>
</html>
